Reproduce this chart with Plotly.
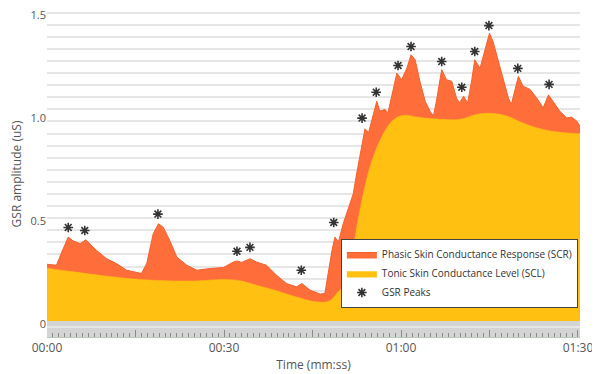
import plotly.graph_objects as go

# Time (s) and raw GSR signal (tonic + phasic)
sig_t = [0, 1.6, 2.5, 3.6, 4.4, 5.6, 6.6, 8.4, 10.1, 11.8, 13.5, 15.2, 16.0, 16.9, 18.0, 18.9,
         19.7, 20.8, 22.0, 23.7, 25.4, 27.6, 29.9, 31.6, 32.2, 33.0, 34.4, 35.5, 37.2, 38.9,
         40.6, 42.3, 43.2, 44.6, 46.3, 47.1, 47.7, 48.3, 48.8, 49.4, 50.2, 51.4, 51.9, 52.5,
         53.3, 53.9, 54.5, 55.0, 55.9, 56.4, 57.3, 57.8, 58.4, 59.3, 60.1, 61.0, 61.7, 62.4,
         63.2, 64.1, 64.9, 65.5, 66.0, 66.9, 67.7, 68.6, 69.4, 69.9, 70.6, 71.3, 72.0, 72.5,
         73.4, 74.2, 75.0, 75.6, 76.5, 77.3, 78.2, 78.7, 79.3, 79.9, 80.7, 81.9, 83.0, 84.1,
         85.0, 85.8, 86.9, 88.1, 88.9, 89.8, 90.34]
gsr_signal = [0.276, 0.271, 0.335, 0.408, 0.39, 0.376, 0.395, 0.343, 0.303, 0.279, 0.247, 0.234,
              0.231, 0.279, 0.424, 0.473, 0.456, 0.392, 0.311, 0.271, 0.247, 0.255, 0.26, 0.287,
              0.292, 0.285, 0.303, 0.287, 0.271, 0.223, 0.182, 0.166, 0.182, 0.15, 0.131, 0.134,
              0.247, 0.343, 0.408, 0.384, 0.473, 0.569, 0.618, 0.72, 0.85, 0.935, 0.916, 0.972,
              1.069, 1.021, 1.029, 1.013, 1.093, 1.206, 1.174, 1.23, 1.295, 1.271, 1.166, 1.069,
              1.021, 0.997, 1.069, 1.223, 1.174, 1.166, 1.085, 1.061, 1.093, 1.061, 1.174, 1.271,
              1.23, 1.311, 1.40, 1.36, 1.263, 1.182, 1.085, 1.053, 1.118, 1.19, 1.142, 1.126,
              1.085, 1.037, 1.10, 1.069, 1.021, 0.988, 0.992, 0.972, 0.948]

# Tonic skin conductance level
scl_t = [0, 4.5, 10.1, 15.8, 21.4, 25.4, 29.8, 32.7, 35.5, 38.6, 41.2, 43.7, 45.7, 47.1, 48.0,
         49.0, 50.2, 50.8, 51.4, 52.5, 53.6, 54.7, 55.9, 56.4, 57.6, 58.6, 59.8, 61.2, 62.7,
         66.6, 70.0, 72.8, 75.1, 77.9, 81.3, 85.3, 90.34]
scl = [0.257, 0.239, 0.218, 0.202, 0.195, 0.195, 0.202, 0.196, 0.174, 0.15, 0.126, 0.105, 0.093,
       0.092, 0.100, 0.13, 0.17, 0.214, 0.26, 0.456, 0.618, 0.746, 0.843, 0.876, 0.94, 0.975,
       0.997, 1.0, 0.992, 0.981, 0.981, 1.005, 1.01, 0.997, 0.956, 0.924, 0.911]

# GSR peaks (marker positions)
peak_t = [3.6, 6.4, 18.8, 32.2, 34.4, 43.1, 48.6, 53.4, 55.8, 59.5, 61.7, 66.9, 70.3, 72.5,
          74.9, 79.8, 85.1]
peak_v = [0.455, 0.44, 0.52, 0.339, 0.358, 0.247, 0.479, 0.987, 1.113, 1.243, 1.335, 1.262,
          1.137, 1.311, 1.437, 1.229, 1.151]

x_tickvals = [0, 15, 30, 45, 60, 75, 90]
x_ticktext = ["00:00", "", "00:30", "", "01:00", "", "01:30"]
y_tickvals = [0, 0.5, 1.0, 1.5]
y_ticktext = ["0", "0.5", "1.0", "1.5"]

ORANGE = "#FF6D3B"
YELLOW = "#FFC012"
FONT = "Open Sans"

fig = go.Figure()
fig.add_trace(go.Scatter(
    x=sig_t, y=gsr_signal, mode="lines", fill="tozeroy",
    name="Phasic Skin Conductance Response (SCR)",
    line=dict(color="#F2612F", width=1), fillcolor=ORANGE,
))
fig.add_trace(go.Scatter(
    x=scl_t, y=scl, mode="lines", fill="tozeroy", line_shape="spline",
    name="Tonic Skin Conductance Level (SCL)",
    line=dict(color=YELLOW, width=0.5), fillcolor=YELLOW,
))
fig.add_trace(go.Scatter(
    x=peak_t, y=peak_v, mode="markers", name="GSR Peaks",
    marker=dict(symbol="asterisk-open", size=8, color="#333333",
                line=dict(color="#333333", width=1.6)),
))
# invisible trace to host the grid axis
fig.add_trace(go.Scatter(x=[0], y=[0], yaxis="y2", mode="markers",
                         marker=dict(opacity=0), showlegend=False, hoverinfo="skip"))

fig.add_shape(type="rect", xref="paper", yref="y", x0=0, x1=1, y0=-0.078, y1=0,
              fillcolor="#D4D4D4", line=dict(width=0), layer="between")

# the page body has an 8px margin, so the figure is sized 8px smaller
fig.update_layout(
    width=592, height=366,
    margin=dict(l=39, r=20, t=3, b=37, autoexpand=False),
    paper_bgcolor="white", plot_bgcolor="white",
    font=dict(family=FONT, size=12, color="#555555"),
    showlegend=True,
    legend=dict(
        x=0.996, y=0.089, xanchor="right", yanchor="bottom",
        bgcolor="white", bordercolor="#444444", borderwidth=1,
        font=dict(size=10, color="#333333", family=FONT),
        tracegroupgap=0, itemwidth=30,
    ),
    xaxis=dict(
        range=[0, 90.34], tickvals=x_tickvals, ticktext=x_ticktext,
        ticks="inside", ticklen=7, tickcolor="#8a8a8a", tickwidth=1,
        minor=dict(dtick=1, tick0=0, ticks="inside", ticklen=4, tickcolor="#8a8a8a"),
        showgrid=False, zeroline=False, showline=True, linecolor="#b9ccb9", linewidth=1,
        title=dict(text="Time (mm:ss)", font=dict(size=12, color="#555555"), standoff=5),
        tickfont=dict(size=12, color="#555555"), automargin=False,
        ticklabeloverflow="allow",
    ),
    yaxis=dict(
        range=[-0.078, 1.508], tickvals=y_tickvals, ticktext=y_ticktext,
        showgrid=False, zeroline=False, showline=False, ticks="",
        title=dict(text="GSR amplitude (uS)", font=dict(size=12, color="#555555"), standoff=7),
        tickfont=dict(size=11, color="#555555"), automargin=False,
        ticklabeloverflow="allow", ticklabelshift=3,
    ),
    yaxis2=dict(
        overlaying="y", range=[-0.078, 1.508], tick0=1.5, dtick=1 / 17,
        showgrid=True, gridcolor="#E6E6E6", gridwidth=1.5,
        showticklabels=False, zeroline=False, ticks="", automargin=False,
    ),
)

fig.write_html("out.html")
